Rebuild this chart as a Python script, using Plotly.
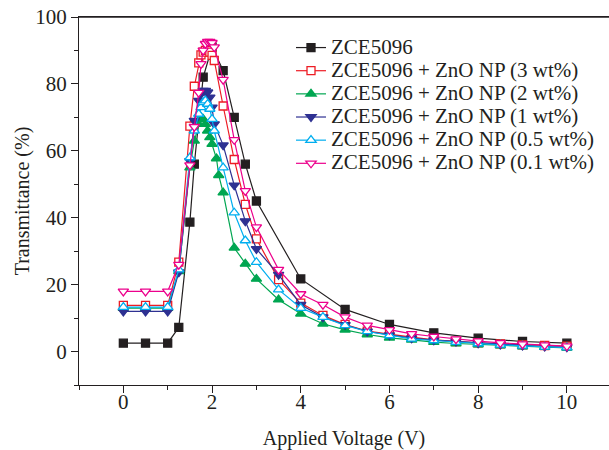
import plotly.graph_objects as go

# ---- data ----
voltage_ref = [0, 0.5, 1, 1.25, 1.5, 1.6, 1.8, 2.0, 2.25, 2.5, 2.75, 3, 4, 5, 6, 7, 8, 9, 10]
trans_ref = [2.5, 2.5, 2.5, 7.2, 38.7, 56, 82, 91, 84, 70, 56, 45, 21.7, 12.6, 8.1, 5.6, 4.0, 3.0, 2.5]

voltage_np = [0, 0.5, 1, 1.25, 1.5, 1.6, 1.7, 1.75, 1.8, 1.85, 1.9, 1.95, 2.0, 2.05,
              2.25, 2.5, 2.75, 3, 3.5, 4, 4.5, 5, 5.5, 6, 6.5, 7, 7.5, 8, 8.5, 9, 9.5, 10]
trans_3wt = [13.8, 13.8, 13.8, 26.7, 67.4, 79.3, 86.3, 88.7, 89.5, 90, 90, 89.5, 88.5, 87,
             73.4, 57.4, 44, 33.7, 21.5, 14.5, 10.8, 8.1, 6.1, 5.1, 4.3, 3.5, 3.0, 2.6, 2.3, 2.0, 1.8, 1.6]
trans_1wt = [12, 12, 12, 23.7, 57, 69, 75, 77, 78, 78, 77.5, 76, 73, 68,
             61.7, 49.7, 39, 30.7, 23, 14, 10.3, 8.0, 6.0, 4.9, 4.0, 3.4, 3.0, 2.5, 2.1, 1.8, 1.5, 1.3]
trans_05wt = [13.3, 13.3, 13.3, 24.5, 58, 66, 71, 73, 74.5, 75, 74, 72.5, 69.5, 66,
              55, 41.5, 33.2, 26.7, 18.5, 13, 10.3, 7.8, 6.0, 4.8, 3.8, 3.3, 2.8, 2.4, 2.0, 1.7, 1.4, 1.2]
trans_01wt = [18, 18, 18, 26, 55.7, 67.2, 77.4, 86, 90, 92, 92.6, 92.6, 92.3, 91,
              81.3, 63.3, 48, 37.2, 24.5, 17.2, 14, 10.3, 7.8, 6.5, 5.3, 4.5, 3.7, 3.1, 2.6, 2.2, 1.9, 1.6]

voltage_2wt = [0, 0.5, 1, 1.25, 1.5, 1.6, 1.7, 1.75, 1.8, 1.85, 1.9, 1.95, 2.0, 2.1, 2.15,
               2.25, 2.5, 2.75, 3, 3.5, 4, 4.5, 5, 5.5, 6, 6.5, 7, 7.5, 8, 8.5, 9, 9.5, 10]
trans_2wt = [13, 13, 13, 24, 55, 63, 68, 70, 69.5, 68, 66, 64, 62, 57.7, 52.7,
             47.5, 31, 26.2, 21.7, 15.5, 11.3, 8.3, 6.5, 5.1, 4.1, 3.5, 2.8, 2.4, 2.1, 1.8, 1.5, 1.3, 1.1]

series_names = ["ZCE5096", "ZCE5096 + ZnO NP (3 wt%)", "ZCE5096 + ZnO NP (2 wt%)",
                "ZCE5096 + ZnO NP (1 wt%)", "ZCE5096 + ZnO NP (0.5 wt%)", "ZCE5096 + ZnO NP (0.1 wt%)"]

x_ticks = [0, 2, 4, 6, 8, 10]
y_ticks = [0, 20, 40, 60, 80, 100]

# ---- styles ----
colors = ["#231f20", "#ed1c24", "#00a651", "#2e3192", "#00aeef", "#ec008c"]
symbols = ["square", "square", "triangle-up", "triangle-down", "triangle-up", "triangle-down"]
filled = [True, False, True, True, False, False]
sizes = [8, 8, 9, 9, 9, 9]

data = [
    (voltage_ref, trans_ref),
    (voltage_np, trans_3wt),
    (voltage_2wt, trans_2wt),
    (voltage_np, trans_1wt),
    (voltage_np, trans_05wt),
    (voltage_np, trans_01wt),
]

FONT = "Liberation Serif, Times New Roman, serif"
INK = "#231f20"

fig = go.Figure()
for (xs, ys), name, c, s, f, sz in zip(data, series_names, colors, symbols, filled, sizes):
    fig.add_trace(go.Scatter(
        x=xs, y=ys, mode="lines+markers",
        name="<span style='font-size:21px'>" + name + "</span>",
        line=dict(color=c, width=1.2),
        marker=dict(symbol=s, size=sz, color=c if f else "white",
                    line=dict(color=c, width=1.3)),
    ))

fig.update_layout(
    width=609, height=450,
    margin=dict(l=79, r=0, t=17, b=65, autoexpand=False),
    paper_bgcolor="white", plot_bgcolor="white",
    font=dict(family=FONT, size=21, color=INK),
    showlegend=True,
    legend=dict(x=0.40, y=0.962, xanchor="left", yanchor="top",
                font=dict(family=FONT, size=15.5, color=INK),
                bgcolor="rgba(0,0,0,0)", borderwidth=0, tracegroupgap=0),
    shapes=[dict(type="line", xref="paper", yref="paper", x0=0, x1=1, y0=1, y1=1,
                 line=dict(color=INK, width=1.3), layer="above")],
)
fig.update_xaxes(
    range=[-1, 10.95], tickvals=x_ticks, showgrid=False, zeroline=False, automargin=False,
    showline=True, linecolor=INK, linewidth=1.3, mirror=True,
    ticks="outside", ticklen=7, tickwidth=1.2, tickcolor=INK,
    minor=dict(ticks="outside", dtick=1, tick0=1, ticklen=4, tickwidth=1.2, tickcolor=INK),
    tickfont=dict(size=21), ticklabelstandoff=-9, ticklabeloverflow="allow",
    title=dict(text="Applied Voltage (V)", font=dict(size=20), standoff=17),
)
fig.update_yaxes(
    range=[-10, 100], tickvals=y_ticks, showgrid=False, zeroline=False, automargin=False,
    showline=True, linecolor=INK, linewidth=1.3,
    ticks="outside", ticklen=7, tickwidth=1.2, tickcolor=INK,
    minor=dict(ticks="outside", dtick=10, tick0=10, ticklen=4, tickwidth=1.2, tickcolor=INK),
    tickfont=dict(size=21), ticklabeloverflow="allow",
    title=dict(text="Transmittance (%)", font=dict(size=20), standoff=0),
)

# remove the browser's default 8px body margin so the figure fills the window exactly
fig.write_html(
    "out.html",
    config={"displayModeBar": False},
    post_script="document.body.style.margin='0';document.body.style.overflow='hidden';",
)
